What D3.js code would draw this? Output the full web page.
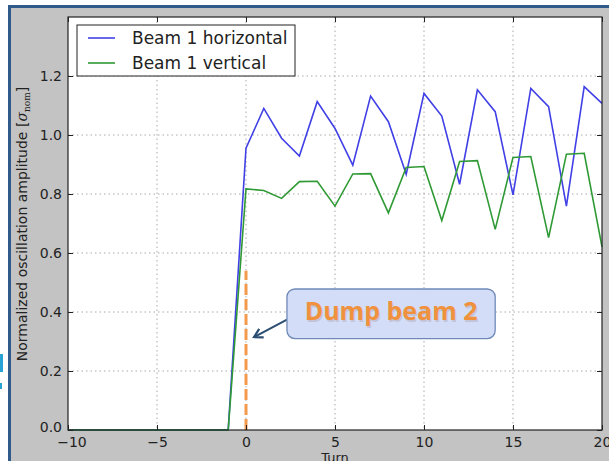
<!DOCTYPE html>
<html>
<head>
<meta charset="utf-8">
<script src="https://cdn.jsdelivr.net/npm/d3@7"></script>
<style>
  body { margin: 0; background: #fff; }
  svg { display: block; }
</style>
</head>
<body>
<svg id="chart"></svg>
<script>
// Turns and amplitudes
const turns = d3.range(-10, 21);
const horizontal = [0, 0, 0, 0, 0, 0, 0, 0, 0, 0,
  0.955, 1.09, 0.989, 0.929, 1.113, 1.022, 0.898, 1.132, 1.045, 0.867,
  1.141, 1.064, 0.833, 1.153, 1.079, 0.797, 1.158, 1.096, 0.759, 1.164, 1.107];
const vertical = [0, 0, 0, 0, 0, 0, 0, 0, 0, 0,
  0.817, 0.812, 0.785, 0.842, 0.843, 0.759, 0.868, 0.869, 0.736, 0.89,
  0.893, 0.71, 0.91, 0.913, 0.68, 0.924, 0.927, 0.652, 0.935, 0.938, 0.621];
const xTicks = [-10, -5, 0, 5, 10, 15, 20];
const yTicks = [0, 0.2, 0.4, 0.6, 0.8, 1.0, 1.2];
const seriesNames = ["Beam 1 horizontal", "Beam 1 vertical"];
const dumpTurn = 0, dumpTop = 0.54;
const noteText = "Dump beam 2";

const W = 609, H = 461;
const margin = { top: 17, right: 7, bottom: 31, left: 68 };
const width = W - margin.left - margin.right;
const height = H - margin.top - margin.bottom;

const root = d3.select("#chart").attr("width", W).attr("height", H);

// slide background
root.append("rect").attr("x", 10).attr("y", 8).attr("width", W).attr("height", H).attr("fill", "#c3c3c3");
root.append("rect").attr("x", 8).attr("y", 5).attr("width", W).attr("height", 3).attr("fill", "#30598c");
root.append("rect").attr("x", 8).attr("y", 5).attr("width", 3).attr("height", H).attr("fill", "#30598c");
root.append("rect").attr("x", 0).attr("y", 354).attr("width", 3).attr("height", 18).attr("fill", "#29a3d6");
root.append("rect").attr("x", 0).attr("y", 383).attr("width", 2).attr("height", 6).attr("fill", "#29a3d6");

const svg = root.append("g").attr("transform", `translate(${margin.left},${margin.top})`);

const x = d3.scaleLinear().domain([-10, 20]).range([0, width]);
const y = d3.scaleLinear().domain([0, 1.4]).range([height, 0]);

svg.append("rect").attr("width", width).attr("height", height).attr("fill", "#fff");

// dotted grid
svg.append("g").selectAll("line").data(xTicks.slice(1, -1)).join("line")
  .attr("x1", d => x(d)).attr("x2", d => x(d)).attr("y1", 0).attr("y2", height)
  .attr("stroke", "#aaa").attr("stroke-dasharray", "1.5,3");
svg.append("g").selectAll("line").data(yTicks.slice(1)).join("line")
  .attr("y1", d => y(d)).attr("y2", d => y(d)).attr("x1", 0).attr("x2", width)
  .attr("stroke", "#aaa").attr("stroke-dasharray", "1.5,3");

// dump marker
svg.append("line")
  .attr("x1", x(dumpTurn)).attr("x2", x(dumpTurn))
  .attr("y1", y(0)).attr("y2", y(dumpTop))
  .attr("stroke", "#f39a4c").attr("stroke-width", 3)
  .attr("stroke-dasharray", "11,4");

// lines
const line = d3.line().x((d, i) => x(turns[i])).y(d => y(d));
svg.append("path").datum(horizontal).attr("fill", "none")
  .attr("stroke", "#4040e6").attr("stroke-width", 1.6).attr("d", line);
svg.append("path").datum(vertical).attr("fill", "none")
  .attr("stroke", "#2f9a35").attr("stroke-width", 1.6).attr("d", line);

// axes (matplotlib style: inward ticks on all sides)
const font = "DejaVu Sans, sans-serif";
const axBottom = svg.append("g").attr("transform", `translate(0,${height})`)
  .call(d3.axisBottom(x).tickValues(xTicks).tickSize(-5).tickPadding(7)
    .tickFormat(d => d < 0 ? "\u2212" + Math.abs(d) : d));
const axLeft = svg.append("g")
  .call(d3.axisLeft(y).tickValues(yTicks).tickSize(-5).tickPadding(6).tickFormat(d3.format(".1f")));
const axTop = svg.append("g").call(d3.axisTop(x).tickValues(xTicks).tickSize(-5).tickFormat(""));
const axRight = svg.append("g").attr("transform", `translate(${width},0)`)
  .call(d3.axisRight(y).tickValues(yTicks).tickSize(-5).tickFormat(""));
[axBottom, axLeft, axTop, axRight].forEach(g => {
  g.select(".domain").remove();
  g.selectAll(".tick line").attr("stroke", "#222");
  g.selectAll("text").attr("font-family", font).attr("font-size", 14).attr("fill", "#222");
});
axLeft.select(".tick text").attr("dy", "0.1em");
axBottom.select(".tick text").attr("dx", "0.25em");

svg.append("rect").attr("width", width).attr("height", height)
  .attr("fill", "none").attr("stroke", "#222").attr("stroke-width", 1.2);

// axis labels
svg.append("text")
  .attr("x", width / 2).attr("y", height + 32)
  .attr("text-anchor", "middle").attr("font-family", font).attr("font-size", 13).attr("fill", "#222")
  .text("Turn");

const yl = svg.append("text")
  .attr("transform", `translate(-41,${224 - margin.top}) rotate(-90)`)
  .attr("text-anchor", "middle").attr("font-family", font).attr("font-size", 14).attr("fill", "#222");
yl.append("tspan").text("Normalized oscillation amplitude ");
yl.append("tspan").text("[");
yl.append("tspan").attr("font-style", "italic").attr("font-family", "DejaVu Serif, serif").text("\u03c3");
yl.append("tspan").attr("font-size", 9).attr("dy", 3).attr("font-family", "DejaVu Serif, serif").text("nom");
yl.append("tspan").attr("dy", -3).text("]");

// legend
const legend = svg.append("g").attr("transform", "translate(9,8)");
legend.append("rect").attr("width", 218).attr("height", 51)
  .attr("fill", "#fff").attr("stroke", "#222").attr("stroke-width", 1);
const colors = ["#4040e6", "#2f9a35"];
seriesNames.forEach((name, i) => {
  const gy = 13 + i * 25;
  legend.append("line").attr("x1", 11).attr("x2", 38).attr("y1", gy).attr("y2", gy)
    .attr("stroke", colors[i]).attr("stroke-width", 1.6);
  legend.append("text").attr("x", 55).attr("y", gy + 6)
    .attr("font-family", font).attr("font-size", 17).attr("fill", "#222").text(name);
});

// callout
const bx0 = x(2.3), bx1 = x(14.0), by0 = y(0.478), by1 = y(0.31);
const tipX = x(0.45), tipY = y(0.315);
const defs = root.append("defs");
defs.append("marker").attr("id", "arrow").attr("viewBox", "0 0 10 10")
  .attr("refX", 8).attr("refY", 5).attr("markerWidth", 6).attr("markerHeight", 6)
  .attr("orient", "auto-start-reverse")
  .append("path").attr("d", "M1,1 L8,5 L1,9").attr("fill", "none")
  .attr("stroke", "#2c4d72").attr("stroke-width", 1.8);
svg.append("line")
  .attr("x1", bx0).attr("y1", by0 + (by1 - by0) * 0.62)
  .attr("x2", tipX).attr("y2", tipY)
  .attr("stroke", "#2c4d72").attr("stroke-width", 2).attr("marker-end", "url(#arrow)");
svg.append("rect")
  .attr("x", bx0).attr("y", by0).attr("width", bx1 - bx0).attr("height", by1 - by0)
  .attr("rx", 8).attr("fill", "#d3ddf7").attr("stroke", "#6f8ab8").attr("stroke-width", 1.3);
const noteFont = "'Open Sans', Lato, sans-serif";
svg.append("text")
  .attr("x", (bx0 + bx1) / 2 + 1).attr("y", (by0 + by1) / 2 + 1.5)
  .attr("text-anchor", "middle").attr("dominant-baseline", "middle")
  .attr("font-family", noteFont).attr("font-weight", "bold").attr("font-size", 25)
  .attr("fill", "#b9b4c4").attr("opacity", 0.6).text(noteText);
svg.append("text")
  .attr("x", (bx0 + bx1) / 2).attr("y", (by0 + by1) / 2)
  .attr("text-anchor", "middle").attr("dominant-baseline", "middle")
  .attr("font-family", noteFont).attr("font-weight", "bold").attr("font-size", 25)
  .attr("fill", "#f0913d").text(noteText);
</script>
</body>
</html>
